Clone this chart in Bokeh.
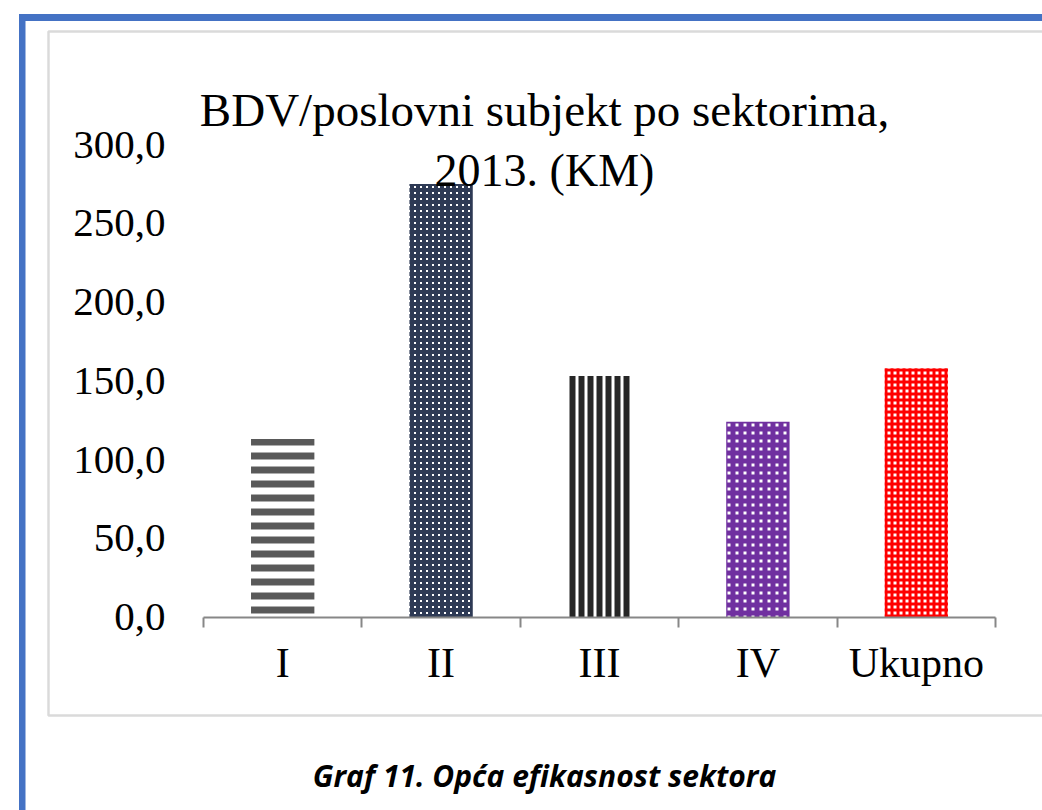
from bokeh.plotting import figure
from bokeh.models import Range1d, LinearAxis, FixedTicker, Label, BoxAnnotation
from bokeh.embed import file_html
from bokeh.resources import INLINE

# ---- data ----
categories = ["I", "II", "III", "IV", "Ukupno"]
values = [113.0, 275.0, 153.0, 124.0, 158.0]
y_ticks = [0, 50, 100, 150, 200, 250, 300]
y_tick_labels = ["0,0", "50,0", "100,0", "150,0", "200,0", "250,0", "300,0"]
title_lines = ["BDV/poslovni subjekt po sektorima,", "2013. (KM)"]
caption = "Graf 11. Opća efikasnost sektora"

# ---- styles per bar ----
bar_fill = ["white", "white", "white", "white", "white"]
hatch_pattern = ["horizontal_line", "cross", "vertical_line", "cross", "cross"]
hatch_color = ["#595959", "#2E3A55", "#262626", "#7030A0", "#FF0000"]
hatch_scale = [14, 6, 9, 8, 6]
hatch_weight = [7, 4, 6, 5, 3]

W, H = 1042, 810
# frame covers the whole canvas; data range chosen so that the plot area
# (0..5, 0..300) sits at x 203..995, y 616.5..144
px_x = 158.4
px_y = 1.575
x0, y0 = 203.0, 616.5
p = figure(width=W, height=H, output_backend="svg", toolbar_location=None,
           x_range=Range1d(-x0 / px_x, 5 + (W - 995.0) / px_x),
           y_range=Range1d(-(H - y0) / px_y, 300 + 144.0 / px_y),
           x_axis_type=None, y_axis_type=None,
           min_border=0, min_border_left=0, min_border_right=0,
           min_border_top=0, min_border_bottom=0)
p.outline_line_color = None
p.xgrid.visible = False
p.ygrid.visible = False
p.background_fill_color = "white"
p.border_fill_color = "white"

def X(px):
    return (px - x0) / px_x

def Y(py):
    return (y0 - py) / px_y

# decorative frames
p.add_layout(BoxAnnotation(left=X(48), right=X(1100), top=Y(31), bottom=Y(715),
                           fill_alpha=0, line_color="#848484", line_width=2.5,
                           level="underlay"))
p.add_layout(BoxAnnotation(left=X(18.5), right=X(1100), top=Y(13.5), bottom=Y(20.5),
                           fill_color="#4472C4", fill_alpha=1, line_color=None))
p.add_layout(BoxAnnotation(left=X(18.5), right=X(25), top=Y(13.5), bottom=Y(900),
                           fill_color="#4472C4", fill_alpha=1, line_color=None))

# bars
for i, (c, v) in enumerate(zip(categories, values)):
    p.vbar(x=[i + 0.5], top=[v], bottom=0, width=0.4,
           fill_color=bar_fill[i], line_color=None,
           hatch_pattern=hatch_pattern[i], hatch_color=hatch_color[i],
           hatch_scale=hatch_scale[i], hatch_weight=hatch_weight[i])

axis_gray = "#878787"
serif = "Liberation Serif"

# y axis
yax = LinearAxis(ticker=FixedTicker(ticks=y_ticks, minor_ticks=[]), fixed_location=0)
yax.major_label_overrides = {t: l for t, l in zip(y_ticks, y_tick_labels)}
yax.axis_line_color = None
yax.major_tick_line_color = None
yax.major_tick_out = 0
yax.major_tick_in = 0
yax.minor_tick_line_color = None
yax.major_label_standoff = 38
yax.major_label_text_font = serif
yax.major_label_text_font_size = "41px"
yax.major_label_text_color = "#000000"
p.add_layout(yax, "left")

# x axis
centers = [i + 0.5 for i in range(len(categories))]
bounds = list(range(len(categories) + 1))
xax = LinearAxis(ticker=FixedTicker(ticks=centers, minor_ticks=bounds),
                 fixed_location=0, bounds=(0, len(categories)))
xax.major_label_overrides = {c: n for c, n in zip(centers, categories)}
xax.axis_line_color = axis_gray
xax.axis_line_width = 2
xax.major_tick_line_color = None
xax.major_tick_out = 0
xax.major_tick_in = 0
xax.minor_tick_line_color = axis_gray
xax.minor_tick_line_width = 2
xax.minor_tick_out = 10
xax.minor_tick_in = 0
xax.major_label_standoff = 13
xax.major_label_text_font = serif
xax.major_label_text_font_size = "42px"
xax.major_label_text_color = "#000000"
p.add_layout(xax, "below")

# title (two lines)
p.add_layout(Label(x=X(544), y=Y(109), text=title_lines[0], text_align="center",
                   text_baseline="alphabetic", text_font=serif,
                   text_font_size="47px", text_color="#000000"))
p.add_layout(Label(x=X(544), y=Y(170), text=title_lines[1], text_align="center",
                   text_baseline="alphabetic", text_font=serif,
                   text_font_size="46px", text_color="#000000"))

# caption
p.add_layout(Label(x=X(544), y=Y(775), text=caption, text_align="center",
                   text_baseline="alphabetic", text_font="Open Sans",
                   text_font_style="bold italic", text_font_size="30px",
                   text_color="#000000"))

open("out.html", "w").write(file_html(p, INLINE))
